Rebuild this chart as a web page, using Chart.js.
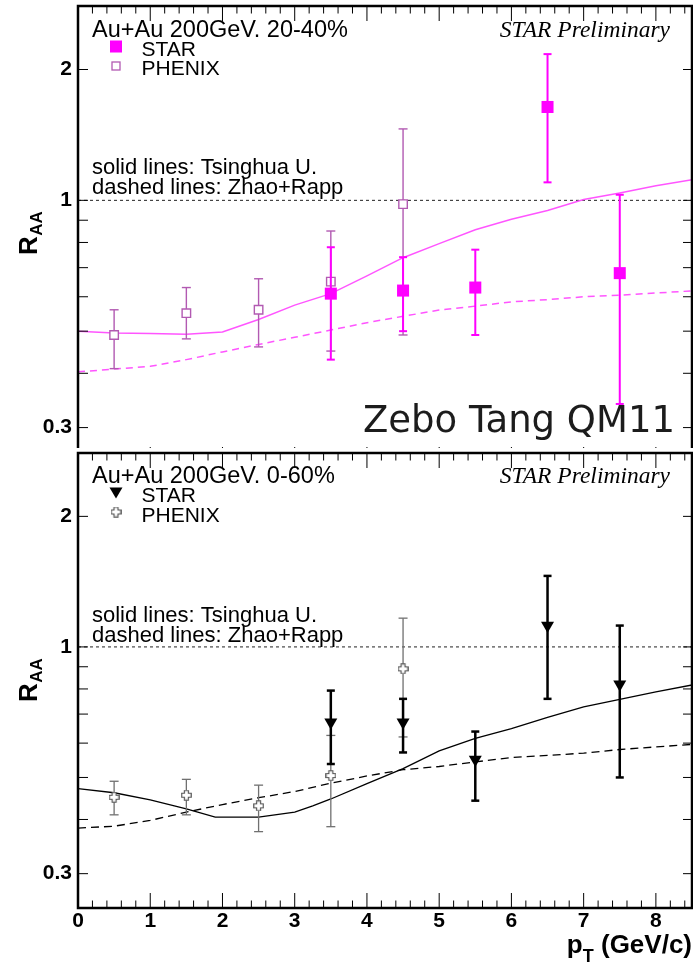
<!DOCTYPE html>
<html>
<head>
<meta charset="utf-8">
<title>J/psi R_AA vs pT, Au+Au 200 GeV</title>
<script src="https://cdn.jsdelivr.net/npm/chart.js@4.4.0/dist/chart.umd.min.js"></script>
<style>
  html, body { margin: 0; padding: 0; background: #fff; }
  #topPanel { position: absolute; left: 0; top: 0; width: 693px; height: 448px; overflow: hidden; background: #fff; }
  #botPanel { position: absolute; left: 0; top: 448px; width: 693px; height: 518px; overflow: hidden; background: #fff; }
  canvas { display: block; }
</style>
</head>
<body>
<div id="topPanel"><canvas id="cTop" width="693" height="480"></canvas></div>
<div id="botPanel"><canvas id="cBot" width="693" height="518"></canvas></div>
<script>
// ---- axis ranges and ticks ----
const X_MIN = 0, X_MAX = 8.5;
const Y_MIN = 0.25, Y_MAX = 2.8;
const X_TICKS = [0, 1, 2, 3, 4, 5, 6, 7, 8];
const Y_TICKS = [0.3, 0.4, 0.5, 0.6, 0.7, 0.8, 0.9, 1, 2];
const Y_LABELS = [0.3, 1, 2];
const UNITY_X = [0, 8.5];
const UNITY_Y = [1, 1];

// ---- 20-40% centrality ----
const STAR_2040_X  = [3.5, 4.5, 5.5, 6.5, 7.5];
const STAR_2040_Y  = [0.61, 0.62, 0.63, 1.64, 0.68];
const STAR_2040_LO = [0.43, 0.50, 0.49, 1.10, 0.34];
const STAR_2040_HI = [0.78, 0.74, 0.77, 2.17, 1.03];

const PHENIX_2040_X  = [0.5, 1.5, 2.5, 3.5, 4.5];
const PHENIX_2040_Y  = [0.49, 0.55, 0.56, 0.65, 0.98];
const PHENIX_2040_LO = [0.41, 0.48, 0.46, 0.45, 0.49];
const PHENIX_2040_HI = [0.56, 0.63, 0.66, 0.85, 1.46];

const TSINGHUA_2040_X = [0, 0.5, 1, 1.5, 2, 2.5, 3, 3.5, 4, 4.5, 5, 5.5, 6, 6.5, 7, 7.5, 8, 8.5];
const TSINGHUA_2040_Y = [0.50, 0.495, 0.494, 0.492, 0.498, 0.532, 0.574, 0.61, 0.67, 0.738, 0.795, 0.856, 0.905, 0.948, 1.004, 1.04, 1.08, 1.116];
const RAPP_2040_X = [0, 0.5, 1, 1.5, 2, 2.5, 3, 3.5, 4, 4.5, 5, 5.5, 6, 6.5, 7, 7.5, 8, 8.5];
const RAPP_2040_Y = [0.403, 0.409, 0.415, 0.430, 0.448, 0.466, 0.484, 0.503, 0.523, 0.541, 0.559, 0.571, 0.584, 0.591, 0.600, 0.605, 0.612, 0.619];

// ---- 0-60% centrality ----
const STAR_060_X  = [3.5, 4.5, 5.5, 6.5, 7.5];
const STAR_060_Y  = [0.67, 0.67, 0.55, 1.12, 0.82];
const STAR_060_LO = [0.537, 0.571, 0.442, 0.759, 0.50];
const STAR_060_HI = [0.793, 0.759, 0.638, 1.458, 1.12];

const PHENIX_060_X  = [0.5, 1.5, 2.5, 3.5, 4.5];
const PHENIX_060_Y  = [0.45, 0.455, 0.43, 0.505, 0.89];
const PHENIX_060_LO = [0.41, 0.41, 0.375, 0.385, 0.62];
const PHENIX_060_HI = [0.49, 0.495, 0.48, 0.625, 1.165];

const TSINGHUA_060_X = [0, 0.5, 1, 1.5, 1.9, 2.5, 3, 3.25, 3.5, 4, 4.5, 5, 5.5, 6, 6.5, 7, 7.5, 8, 8.5];
const TSINGHUA_060_Y = [0.471, 0.461, 0.444, 0.423, 0.405, 0.405, 0.416, 0.430, 0.446, 0.484, 0.524, 0.576, 0.615, 0.648, 0.688, 0.727, 0.757, 0.788, 0.817];
const RAPP_060_X = [0, 0.5, 1, 1.5, 2, 2.5, 3, 3.5, 4, 4.5, 5, 5.5, 6, 6.5, 7, 7.5, 8, 8.5];
const RAPP_060_Y = [0.382, 0.386, 0.398, 0.416, 0.433, 0.449, 0.464, 0.485, 0.504, 0.521, 0.530, 0.543, 0.556, 0.562, 0.569, 0.580, 0.588, 0.596];

// ---- helpers ----
const SANS = '"Liberation Sans", Arial, Helvetica, sans-serif';
const SERIF = '"Liberation Serif", "Times New Roman", serif';

function points(xs, ys) { return xs.map((x, i) => ({ x, y: ys[i] })); }
function errorSegments(xs, lo, hi) {
  const out = [];
  xs.forEach((x, i) => { out.push({ x, y: lo[i] }, { x, y: hi[i] }, { x, y: null }); });
  return out;
}
function openCross(size, arm, color) {
  const c = document.createElement('canvas');
  c.width = c.height = size;
  const g = c.getContext('2d');
  const m = size / 2, h = arm / 2, r = size / 2 - 0.75;
  g.beginPath();
  g.moveTo(m - h, m - r); g.lineTo(m + h, m - r); g.lineTo(m + h, m - h); g.lineTo(m + r, m - h);
  g.lineTo(m + r, m + h); g.lineTo(m + h, m + h); g.lineTo(m + h, m + r); g.lineTo(m - h, m + r);
  g.lineTo(m - h, m + h); g.lineTo(m - r, m + h); g.lineTo(m - r, m - h); g.lineTo(m - h, m - h);
  g.closePath();
  g.fillStyle = '#fff'; g.fill();
  g.strokeStyle = color; g.lineWidth = 1.2; g.stroke();
  return c;
}

const MAGENTA = '#ff00ff';
const MAGENTA_LINE = '#ff55ff';
const PURPLE = '#b25ab2';
const GRAY = '#707070';
const CROSS_IMG = openCross(11, 4, '#555');

function markerSet(xs, ys, style) {
  return Object.assign({ data: points(xs, ys), showLine: false, pointHitRadius: 0 }, style);
}
function errorSet(xs, lo, hi, color, width, cap) {
  return {
    data: errorSegments(xs, lo, hi), showLine: true, spanGaps: false,
    borderColor: color, borderWidth: width,
    pointStyle: 'line', pointRadius: cap, pointBorderColor: color, pointBorderWidth: width
  };
}
function curveSet(xs, ys, color, width, dash) {
  return { data: points(xs, ys), showLine: true, borderColor: color, borderWidth: width, borderDash: dash || [], pointRadius: 0, tension: 0 };
}

// axis frame, inward ticks, titles and annotations
function decorPlugin(dec) {
  return {
    id: 'decor',
    afterDatasetsDraw(chart) {
      const { ctx, chartArea: a, scales: { x, y } } = chart;
      ctx.save();
      ctx.strokeStyle = '#000';
      ctx.lineWidth = 1;
      ctx.beginPath();
      Y_TICKS.forEach(v => {
        const py = y.getPixelForValue(v);
        ctx.moveTo(a.left, py); ctx.lineTo(a.left + 10, py);
        ctx.moveTo(a.right, py); ctx.lineTo(a.right - 9, py);
      });
      for (let i = 0; i * 0.2 <= X_MAX + 1e-9; i++) {
        const v = Math.round(i * 2) / 10;
        const px = x.getPixelForValue(v);
        const len = (i % 5 === 0) ? 15 : 7.5;
        ctx.moveTo(px, a.top); ctx.lineTo(px, a.top + len);
        ctx.moveTo(px, a.bottom); ctx.lineTo(px, a.bottom - len);
      }
      ctx.stroke();
      ctx.lineWidth = 2.5;
      ctx.strokeRect(a.left, a.top, a.right - a.left, a.bottom - a.top);

      // text annotations
      dec.texts.forEach(t => {
        ctx.font = t.font;
        ctx.fillStyle = t.color || '#000';
        ctx.textAlign = t.align || 'left';
        ctx.textBaseline = 'alphabetic';
        ctx.fillText(t.text, t.x, t.y);
      });

      // legend
      dec.legend.forEach(l => {
        if (l.kind === 'fillsq') {
          ctx.fillStyle = l.color; ctx.fillRect(l.x - l.s / 2, l.y - l.s / 2, l.s, l.s);
        } else if (l.kind === 'opensq') {
          ctx.fillStyle = '#fff'; ctx.strokeStyle = l.color; ctx.lineWidth = 1.3;
          ctx.fillRect(l.x - l.s / 2, l.y - l.s / 2, l.s, l.s);
          ctx.strokeRect(l.x - l.s / 2, l.y - l.s / 2, l.s, l.s);
        } else if (l.kind === 'tri') {
          ctx.fillStyle = l.color; ctx.beginPath();
          ctx.moveTo(l.x - l.s / 2, l.y - l.s * 0.43); ctx.lineTo(l.x + l.s / 2, l.y - l.s * 0.43);
          ctx.lineTo(l.x, l.y + l.s * 0.43); ctx.closePath(); ctx.fill();
        } else if (l.kind === 'cross') {
          ctx.drawImage(CROSS_IMG, l.x - CROSS_IMG.width / 2, l.y - CROSS_IMG.height / 2);
        }
        ctx.font = '21px ' + SANS; ctx.fillStyle = '#000'; ctx.textAlign = 'left';
        ctx.fillText(l.label, 141.5, l.ty);
      });

      // y title R_AA (rotated)
      ctx.save();
      ctx.translate(37, dec.rY);
      ctx.rotate(-Math.PI / 2);
      ctx.font = 'bold 26px ' + SANS; ctx.fillStyle = '#000'; ctx.textAlign = 'left';
      ctx.fillText('R', 0, 0);
      const wR = ctx.measureText('R').width;
      ctx.font = 'bold 17px ' + SANS;
      ctx.fillText('AA', wR + 0.5, 4.5);
      ctx.restore();

      // x title p_T (GeV/c)
      if (dec.xTitleY) {
        const big = 'bold 26px ' + SANS, small = 'bold 18px ' + SANS;
        ctx.font = big; const wp = ctx.measureText('p').width; const wRest = ctx.measureText(' (GeV/c)').width;
        ctx.font = small; const wT = ctx.measureText('T').width;
        const x0 = 692 - (wp + wT + wRest);
        ctx.fillStyle = '#000'; ctx.textAlign = 'left';
        ctx.font = big; ctx.fillText('p', x0, dec.xTitleY);
        ctx.font = small; ctx.fillText('T', x0 + wp, dec.xTitleY + 9);
        ctx.font = big; ctx.fillText(' (GeV/c)', x0 + wp + wT, dec.xTitleY);
      }
      ctx.restore();
    }
  };
}

function makePanel(canvas, datasets, dec, padding, showXLabels, xAxisHeight) {
  return new Chart(canvas, {
    type: 'line',
    data: { datasets },
    options: {
      responsive: false,
      animation: false,
      events: [],
      layout: { padding, autoPadding: false },
      plugins: { legend: { display: false }, tooltip: { enabled: false } },
      scales: {
        x: {
          type: 'linear', min: X_MIN, max: X_MAX,
          display: showXLabels,
          afterBuildTicks: s => { s.ticks = X_TICKS.map(v => ({ value: v })); },
          afterFit: s => { s.height = xAxisHeight; s.paddingLeft = 0; s.paddingRight = 0; },
          grid: { display: false, drawTicks: false },
          border: { display: false },
          ticks: { color: '#000', padding: 1, font: { family: SANS, size: 21, weight: 'bold' }, autoSkip: false, maxRotation: 0 }
        },
        y: {
          type: 'logarithmic', min: Y_MIN, max: Y_MAX,
          afterBuildTicks: s => { s.ticks = Y_TICKS.map(v => ({ value: v })); },
          afterFit: s => { s.width = 78; s.paddingTop = 0; s.paddingBottom = 0; },
          grid: { display: false, drawTicks: false },
          border: { display: false },
          ticks: {
            color: '#000', padding: 6, autoSkip: false,
            font: { family: SANS, size: 21, weight: 'bold' },
            callback: v => (Y_LABELS.includes(v) ? String(v) : '')
          }
        }
      }
    },
    plugins: [decorPlugin(dec)]
  });
}

// ---- upper panel: 20-40% ----
makePanel(document.getElementById('cTop'), [
  markerSet(STAR_2040_X, STAR_2040_Y, { pointStyle: 'rect', pointRadius: 8.5, pointBackgroundColor: MAGENTA, pointBorderColor: MAGENTA, pointBorderWidth: 0 }),
  errorSet(STAR_2040_X, STAR_2040_LO, STAR_2040_HI, MAGENTA, 2, 4),
  markerSet(PHENIX_2040_X, PHENIX_2040_Y, { pointStyle: 'rect', pointRadius: 6, pointBackgroundColor: '#fff', pointBorderColor: PURPLE, pointBorderWidth: 1.4 }),
  errorSet(PHENIX_2040_X, PHENIX_2040_LO, PHENIX_2040_HI, PURPLE, 1.4, 4.5),
  curveSet(TSINGHUA_2040_X, TSINGHUA_2040_Y, MAGENTA_LINE, 1.5),
  curveSet(RAPP_2040_X, RAPP_2040_Y, MAGENTA_LINE, 1.5, [7, 5]),
  curveSet(UNITY_X, UNITY_Y, '#222', 1, [3, 3])
], {
  texts: [
    { text: 'Au+Au 200GeV. 20-40%', x: 92, y: 37, font: '23.5px ' + SANS },
    { text: 'solid lines: Tsinghua U.', x: 92, y: 174, font: '22px ' + SANS },
    { text: 'dashed lines: Zhao+Rapp', x: 92, y: 194, font: '22px ' + SANS },
    { text: 'STAR Preliminary', x: 670, y: 37, font: 'italic 23.5px ' + SERIF, align: 'right' },
    { text: 'Zebo Tang QM11', x: 363, y: 432, font: '37px "DejaVu Sans", sans-serif', color: '#1c1c1c' }
  ],
  legend: [
    { kind: 'fillsq', color: MAGENTA, x: 116, y: 46.5, s: 12, label: 'STAR', ty: 55.5 },
    { kind: 'opensq', color: PURPLE, x: 116, y: 66, s: 8, label: 'PHENIX', ty: 75 }
  ],
  rY: 255,
  xTitleY: null
}, { left: 0, right: 1, top: 6, bottom: 18 }, false, 0);

// ---- lower panel: 0-60% ----
makePanel(document.getElementById('cBot'), [
  markerSet(STAR_060_X, STAR_060_Y, { pointStyle: 'triangle', pointRotation: 180, pointRadius: 7.5, pointBackgroundColor: '#000', pointBorderColor: '#000', pointBorderWidth: 0 }),
  errorSet(STAR_060_X, STAR_060_LO, STAR_060_HI, '#000', 2.5, 4),
  markerSet(PHENIX_060_X, PHENIX_060_Y, { pointStyle: CROSS_IMG, pointRadius: 5 }),
  errorSet(PHENIX_060_X, PHENIX_060_LO, PHENIX_060_HI, GRAY, 1.3, 4.5),
  curveSet(TSINGHUA_060_X, TSINGHUA_060_Y, '#000', 1.3),
  curveSet(RAPP_060_X, RAPP_060_Y, '#000', 1.3, [8, 5]),
  curveSet(UNITY_X, UNITY_Y, '#222', 1, [3, 3])
], {
  texts: [
    { text: 'Au+Au 200GeV. 0-60%', x: 92, y: 35, font: '23.5px ' + SANS },
    { text: 'solid lines: Tsinghua U.', x: 92, y: 174, font: '22px ' + SANS },
    { text: 'dashed lines: Zhao+Rapp', x: 92, y: 194, font: '22px ' + SANS },
    { text: 'STAR Preliminary', x: 670, y: 35, font: 'italic 23.5px ' + SERIF, align: 'right' }
  ],
  legend: [
    { kind: 'tri', color: '#000', x: 116, y: 45, s: 13, label: 'STAR', ty: 54 },
    { kind: 'cross', x: 116, y: 64, label: 'PHENIX', ty: 74 }
  ],
  rY: 254,
  xTitleY: 505
}, { left: 0, right: 1, top: 5, bottom: 0 }, true, 58);
</script>
</body>
</html>
